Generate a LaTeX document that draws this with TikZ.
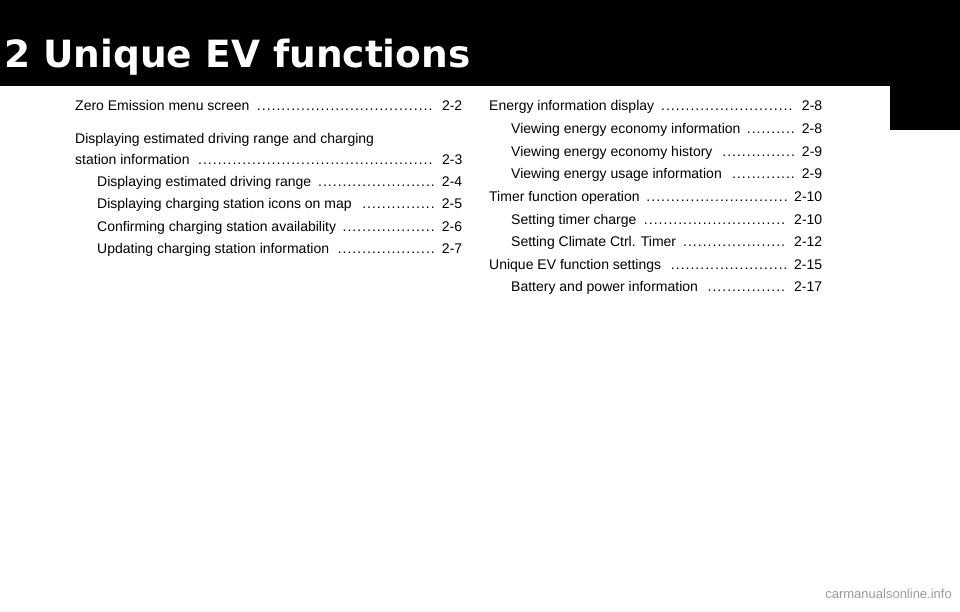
\documentclass[tikz,border=0pt]{standalone}
\usepackage{fontspec}
\setmainfont{Liberation Sans}
\newfontfamily\titlefont{DejaVu Sans}
\newcommand{\tocdots}{\leaders\hbox to 0.35em{\hss.\hss}\hfill}
\newcommand{\tocline}[3]{\makebox[#1][l]{#2\hspace{0.4em}\tocdots\hspace{0.4em}#3}}
\tikzset{entry/.style={anchor=base west,inner sep=0pt,font=\fontsize{14}{15}\selectfont,text=black}}
\begin{document}
\begin{tikzpicture}[x=1pt,y=-1pt]
\useasboundingbox (0,0) rectangle (960,611);
\fill[black] (0,0) rectangle (960,86);
\fill[black] (890,86) rectangle (960,130);
\node[anchor=base west,inner sep=0pt,text=white,font=\titlefont\fontsize{37.5}{42}\bfseries\selectfont] (title) at (4,67) {2 Unique EV functions};
% left column
\node[entry] (l1) at (75,110) {\tocline{387pt}{Zero Emission menu screen}{2-2}};
\node[entry] (l2) at (75,143) {Displaying estimated driving range and charging};
\node[entry] (l3) at (75,164) {\tocline{387pt}{station information}{2-3}};
\node[entry] (l4) at (97,186) {\tocline{365pt}{Displaying estimated driving range}{2-4}};
\node[entry] (l5) at (97,208) {\tocline{365pt}{Displaying charging station icons on map}{2-5}};
\node[entry] (l6) at (97,231) {\tocline{365pt}{Confirming charging station availability}{2-6}};
\node[entry] (l7) at (97,253) {\tocline{365pt}{Updating charging station information}{2-7}};
% right column
\node[entry] (r1) at (489,110) {\tocline{333pt}{Energy information display}{2-8}};
\node[entry] (r2) at (511,133) {\tocline{311pt}{Viewing energy economy information}{2-8}};
\node[entry] (r3) at (511,156) {\tocline{311pt}{Viewing energy economy history}{2-9}};
\node[entry] (r4) at (511,178) {\tocline{311pt}{Viewing energy usage information}{2-9}};
\node[entry] (r5) at (489,201) {\tocline{333pt}{Timer function operation}{2-10}};
\node[entry] (r6) at (511,224) {\tocline{311pt}{Setting timer charge}{2-10}};
\node[entry] (r7) at (511,246) {\tocline{311pt}{Setting Climate Ctrl. Timer}{2-12}};
\node[entry] (r8) at (489,269) {\tocline{333pt}{Unique EV function settings}{2-15}};
\node[entry] (r9) at (511,291) {\tocline{311pt}{Battery and power information}{2-17}};
\node[anchor=base east,inner sep=0pt,text=black!40,font=\fontsize{13}{14}\selectfont] (wm) at (952,598) {carmanualsonline.info};
\end{tikzpicture}
\end{document}
